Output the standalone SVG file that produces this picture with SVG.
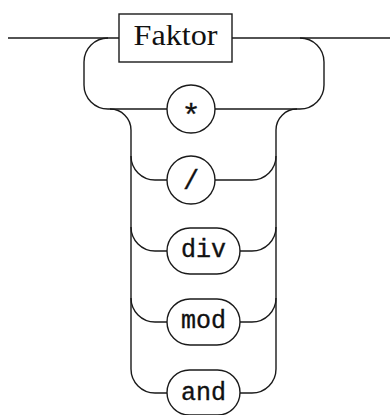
<svg xmlns="http://www.w3.org/2000/svg" width="391" height="415" viewBox="0 0 391 415">
  <style>
    .line { fill: none; stroke: #1a1a1a; stroke-width: 1.4; }
    .term { fill: #ffffff; stroke: #1a1a1a; stroke-width: 1.4; }
    .nt { font-family: "Liberation Serif", "Times New Roman", serif; font-size: 29px; fill: #111; }
    .tt { font-family: "Liberation Mono", "Courier New", monospace; font-size: 25px; fill: #111; stroke: #111; stroke-width: 0.35; }
  </style>
  <rect width="391" height="415" fill="#ffffff"/>

  <!-- connectors -->
  <g id="connectors" class="line">
    <!-- main track -->
    <path d="M8,38 H119"/>
    <path d="M232,38 H390"/>
    <!-- outer loop, left side -->
    <path d="M108,38 A24,24 0 0 0 84,62 V85 A24,24 0 0 0 108,109 H167"/>
    <path d="M110,109 A21,21 0 0 1 131,130 V369"/>
    <!-- outer loop, right side -->
    <path d="M300,38 A24,24 0 0 1 324,62 V85 A24,24 0 0 1 300,109 H215"/>
    <path d="M297,109 A21,21 0 0 0 276,130 V369"/>
    <!-- branches on the left rail -->
    <path d="M131,156 A24,24 0 0 0 155,180 H167"/>
    <path d="M131,227 A24,24 0 0 0 155,251 H167"/>
    <path d="M131,298 A24,24 0 0 0 155,322 H167"/>
    <path d="M131,369 A24,24 0 0 0 155,393 H167"/>
    <!-- branches on the right rail -->
    <path d="M276,156 A24,24 0 0 1 252,180 H215"/>
    <path d="M276,227 A24,24 0 0 1 252,251 H240"/>
    <path d="M276,298 A24,24 0 0 1 252,322 H240"/>
    <path d="M276,369 A24,24 0 0 1 252,393 H240"/>
  </g>

  <g id="faktor">
    <rect class="term" x="119" y="14" width="113" height="48"/>
    <text class="nt" x="175.5" y="45" text-anchor="middle" textLength="84" lengthAdjust="spacingAndGlyphs">Faktor</text>
  </g>

  <g id="op-mul">
    <circle class="term" cx="191" cy="109" r="24"/>
    <text class="tt" x="191" y="126" text-anchor="middle" style="font-size:32px">*</text>
  </g>

  <g id="op-div-slash">
    <circle class="term" cx="191" cy="180" r="24"/>
    <text class="tt" x="191" y="189" text-anchor="middle" style="font-size:27px">/</text>
  </g>

  <g id="op-div">
    <rect class="term" x="167" y="228" width="73" height="46" rx="23"/>
    <text class="tt" x="203.5" y="257" text-anchor="middle">div</text>
  </g>

  <g id="op-mod">
    <rect class="term" x="167" y="299" width="73" height="46" rx="23"/>
    <text class="tt" x="203.5" y="328" text-anchor="middle">mod</text>
  </g>

  <g id="op-and">
    <rect class="term" x="167" y="370" width="73" height="45" rx="22.5"/>
    <text class="tt" x="203.5" y="400" text-anchor="middle">and</text>
  </g>
</svg>
